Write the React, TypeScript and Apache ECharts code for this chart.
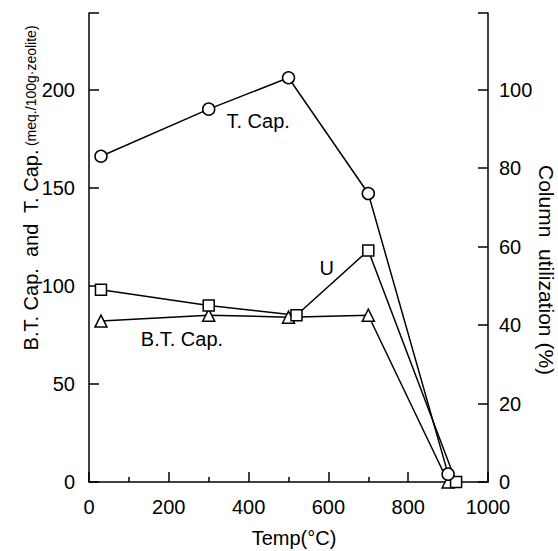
import React, { useEffect, useRef } from "react";
import * as echarts from "echarts";

const tcapTemps = [30, 300, 500, 700, 900];
const tcapValues = [166, 190, 206, 147, 4];
const btcapTemps = [30, 300, 500, 700, 900];
const btcapValues = [82, 85, 84, 85, 0];
const uTemps = [30, 300, 520, 700, 920];
const uValues = [49, 45, 42.5, 59, 0];

const xTicks = [0, 200, 400, 600, 800, 1000];
const leftTicks = [0, 50, 100, 150, 200];
const rightTicks = [0, 20, 40, 60, 80, 100];

const annotations = [
  { text: "T. Cap.", x: 424, y: 184 },
  { text: "U", x: 596, y: 109 },
  { text: "B.T. Cap.", x: 233, y: 73 },
];

const FONT = "Liberation Sans";

export default function App() {
  const ref = useRef<HTMLDivElement>(null);
  useEffect(() => {
    if (!ref.current) return;
    const chart = echarts.init(ref.current, null, { renderer: "svg" });
    const lineStyle = { color: "#000", width: 1.5 };
    const itemStyle = { color: "#fff", borderColor: "#000", borderWidth: 1.5 };
    const mk = (xs: number[], ys: number[]) => xs.map((x, i) => [x, ys[i]]);
    chart.setOption({
      animation: false,
      backgroundColor: "#fff",
      grid: { left: 89, right: 70, top: 13, bottom: 69 },
      xAxis: {
        type: "value",
        min: 0,
        max: 1000,
        interval: 200,
        splitLine: { show: false },
        axisLine: { lineStyle: { color: "#000", width: 1.5 } },
        axisTick: { inside: true, length: 10, lineStyle: { color: "#000", width: 1.5 } },
        minorTick: { show: true, splitNumber: 2, length: 5, lineStyle: { color: "#000", width: 1.5 } },
        axisLabel: {
          color: "#000",
          fontSize: 20,
          fontFamily: FONT,
          margin: 15,
          formatter: (v: number) => (xTicks.includes(v) ? String(v) : ""),
        },
      },
      yAxis: [
        {
          type: "value",
          min: 0,
          max: 239,
          interval: 50,
          splitLine: { show: false },
          axisLine: { show: true, lineStyle: { color: "#000", width: 1.5 } },
          axisTick: { show: true, inside: true, length: 10, lineStyle: { color: "#000", width: 1.5 } },
          axisLabel: {
            color: "#000",
            fontSize: 20,
            fontFamily: FONT,
            margin: 14,
            formatter: (v: number) => (leftTicks.includes(v) ? String(v) : ""),
          },
        },
        {
          type: "value",
          min: 0,
          max: 119.5,
          interval: 20,
          position: "right",
          splitLine: { show: false },
          axisLine: { show: true, lineStyle: { color: "#000", width: 1.5 } },
          axisTick: { show: true, inside: true, length: 10, lineStyle: { color: "#000", width: 1.5 } },
          axisLabel: {
            color: "#000",
            fontSize: 20,
            fontFamily: FONT,
            margin: 11,
            formatter: (v: number) => (rightTicks.includes(v) ? String(v) : ""),
          },
        },
      ],
      series: [
        {
          name: "T. Cap.",
          type: "line",
          data: mk(tcapTemps, tcapValues),
          symbol: "circle",
          symbolSize: 12,
          lineStyle,
          itemStyle,
          z: 3,
        },
        {
          name: "B.T. Cap.",
          type: "line",
          data: mk(btcapTemps, btcapValues),
          symbol: "triangle",
          symbolSize: 12,
          lineStyle,
          itemStyle,
          z: 2,
        },
        {
          name: "U",
          type: "line",
          yAxisIndex: 1,
          data: mk(uTemps, uValues),
          symbol: "rect",
          symbolSize: 11,
          lineStyle,
          itemStyle,
          z: 2,
        },
      ],
    });
    const notes = annotations.map((a) => {
      const p = chart.convertToPixel({ xAxisIndex: 0, yAxisIndex: 0 }, [a.x, a.y]) as number[];
      return {
        type: "text",
        x: p[0],
        y: p[1],
        style: {
          text: a.text,
          fill: "#000",
          font: `20px "${FONT}"`,
          align: "center",
          verticalAlign: "middle",
        },
      };
    });
    chart.setOption({
      graphic: [
        ...notes,
        {
          type: "text",
          x: 31,
          y: 188,
          rotation: Math.PI / 2,
          style: {
            text: "{a|B.T. Cap.  and  T. Cap.} {b|(meq./100g·zeolite)}",
            align: "center",
            verticalAlign: "middle",
            rich: {
              a: { fontSize: 20, fontFamily: FONT, fill: "#000", color: "#000" },
              b: { fontSize: 14, fontFamily: FONT, fill: "#000", color: "#000" },
            },
          },
        },
        {
          type: "text",
          x: 546,
          y: 270,
          rotation: -Math.PI / 2,
          style: {
            text: "Column  utilization (%)",
            fill: "#000",
            font: `21px "${FONT}"`,
            align: "center",
            verticalAlign: "middle",
          },
        },
        {
          type: "text",
          x: 294,
          y: 538,
          style: {
            text: "Temp(°C)",
            fill: "#000",
            font: `20px "${FONT}"`,
            align: "center",
            verticalAlign: "middle",
          },
        },
      ],
    });
    return () => chart.dispose();
  }, []);
  return <div ref={ref} style={{ width: 558, height: 551, position: "absolute", left: 0, top: 0 }} />;
}
